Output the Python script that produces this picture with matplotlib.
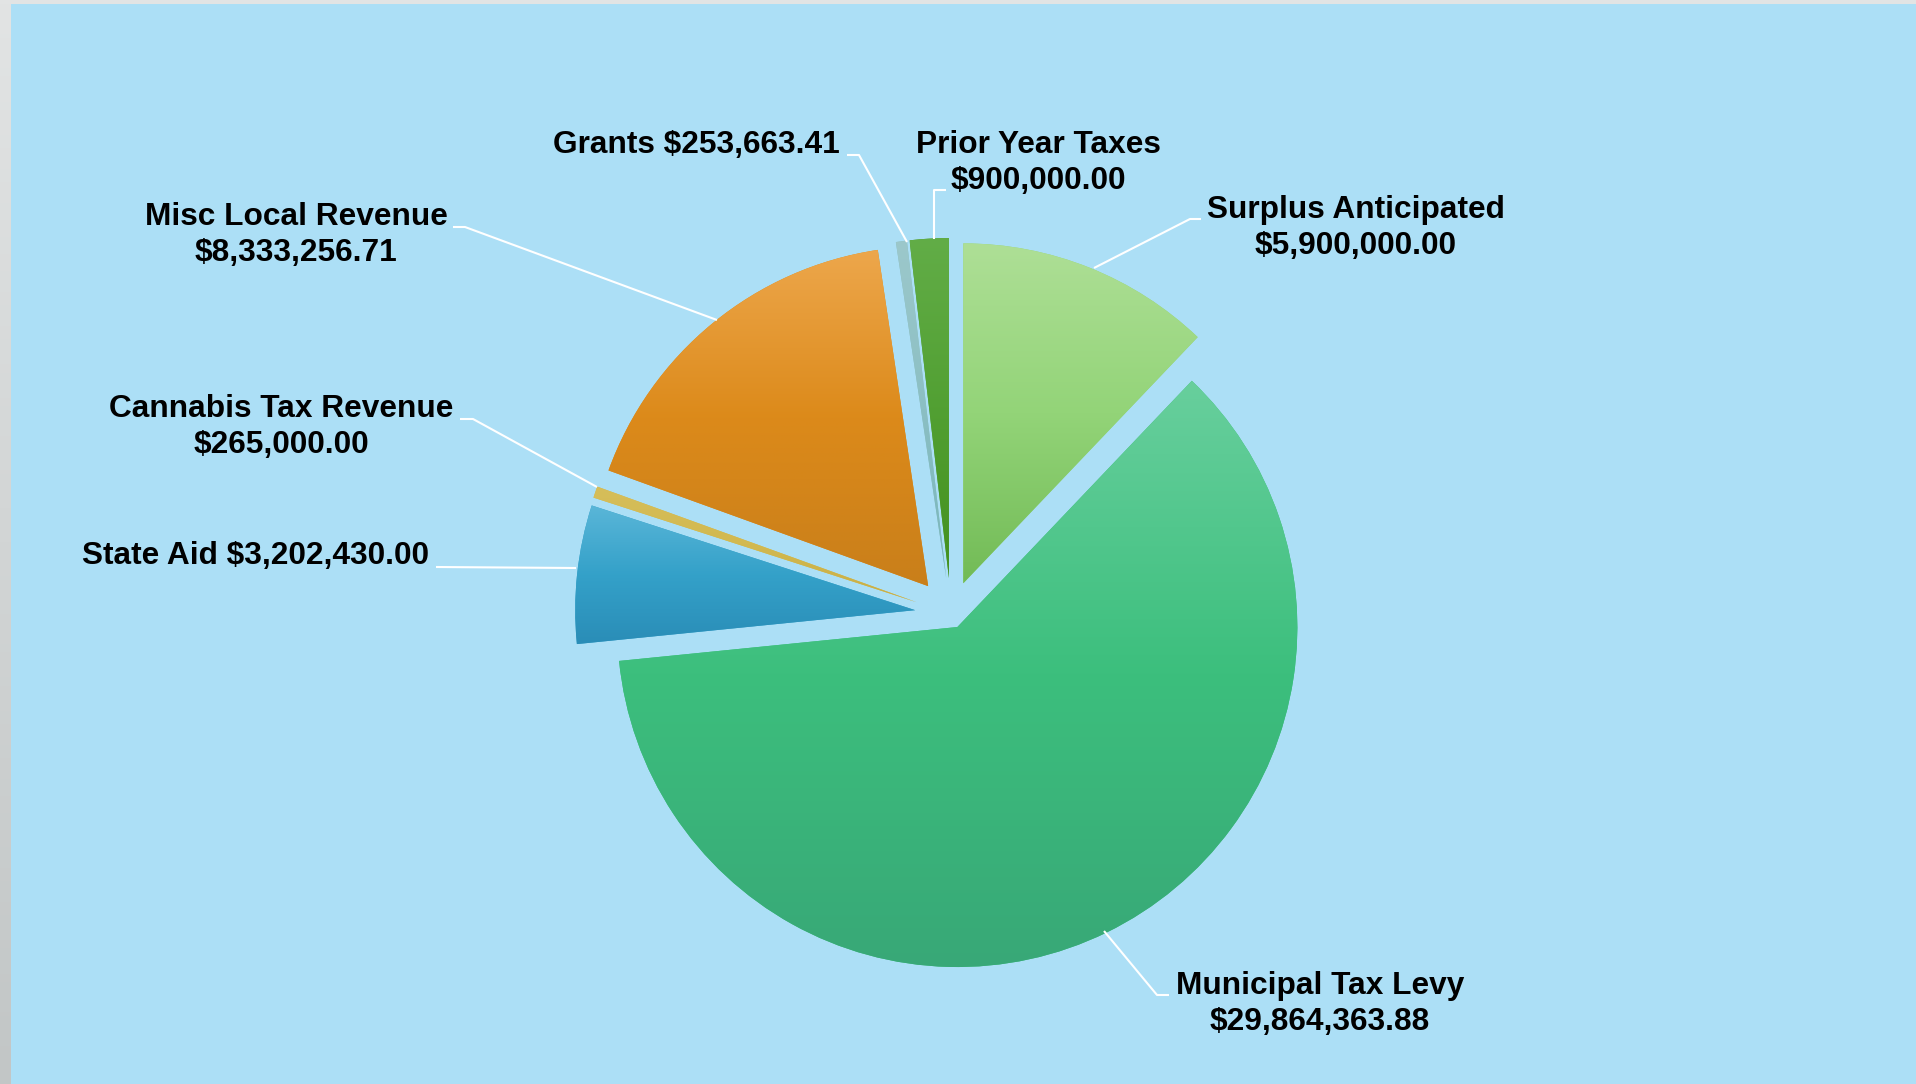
import numpy as np
import matplotlib
matplotlib.use("Agg")
import matplotlib.pyplot as plt
from matplotlib.colors import LinearSegmentedColormap
from matplotlib.patches import Rectangle

# data, clockwise from 12 o'clock
categories = ["Surplus Anticipated", "Municipal Tax Levy", "State Aid",
              "Cannabis Tax Revenue", "Misc Local Revenue", "Grants",
              "Prior Year Taxes"]
amounts = [5900000.00, 29864363.88, 3202430.00, 265000.00,
           8333256.71, 253663.41, 900000.00]

# style / layout (image pixel coords, y down)
W, H = 1916, 1084
explode = [33, 14.5, 36, 36, 36, 36, 36]   # pixels (pie() uses raw units)
gradients = [
    ["#AEDF96", "#93D478", "#72BB56"],
    ["#68CF9D", "#3CBF7D", "#38A877"],
    ["#5AB6D8", "#34A1C9", "#2A8DB7"],
    ["#D6BE5A", "#D2B950", "#C9AE44"],
    ["#EDA74C", "#DC8A1A", "#C97F1A"],
    ["#9CC8CB", "#8BBFC3", "#78B6BA"],
    ["#62AD47", "#52A033", "#43901E"],
]
sep = ["\n", "\n", " ", "\n", "\n", " ", "\n"]
label_xy = [(1356, 228), (1320, 1004), (256, 556), (281, 427),
            (296, 235), (696, 145), (1038, 163)]
leaders = [
    [(1094, 268), (1190, 219), (1201, 219)],
    [(1104, 931), (1157, 995), (1169, 995)],
    [(576, 568), (436, 567)],
    [(597, 487), (473, 419), (460, 419)],
    [(717, 320), (465, 227), (453, 227)],
    [(907, 242), (859, 155), (847, 155)],
    [(934, 239), (934, 190), (946, 190)],
]
pie_center = (951, 614)
pie_radius = 340


def Y(y):
    return H - y


plt.rcParams["font.family"] = ["Liberation Sans", "DejaVu Sans"]

fig = plt.figure(figsize=(W / 100, H / 100), dpi=100, facecolor="#ACDFF6")
ax = fig.add_axes([0, 0, 1, 1])

wedges, _ = ax.pie(amounts, explode=explode, startangle=90, counterclock=False,
                   radius=pie_radius, center=(pie_center[0], Y(pie_center[1])),
                   colors=[g[1] for g in gradients],
                   wedgeprops=dict(linewidth=0))

grad = np.linspace(0, 1, 256).reshape(-1, 1)
for w, stops in zip(wedges, gradients):
    ext = w.get_path().get_extents()
    cmap = LinearSegmentedColormap.from_list("g", stops)
    im = ax.imshow(grad, cmap=cmap, origin="upper", aspect="auto",
                   extent=[ext.x0, ext.x1, ext.y0, ext.y1],
                   interpolation="bilinear", zorder=w.get_zorder() + 0.1)
    im.set_clip_path(w)

for pts in leaders:
    ax.plot([p[0] for p in pts], [Y(p[1]) for p in pts], color="white",
            lw=1.5, solid_capstyle="butt", zorder=3)

for name, val, s, (x, y) in zip(categories, amounts, sep, label_xy):
    ax.text(x, Y(y), f"{name}{s}${val:,.2f}", ha="center", va="center",
            fontsize=22.8, fontweight="bold", color="black",
            linespacing=1.3, zorder=4)

ax.set_xlim(0, W)
ax.set_ylim(0, H)
ax.set_aspect("equal")
ax.axis("off")

# grey frame on the left and top edges
strip = fig.add_axes([0, 0, 11 / W, 1])
strip.imshow(np.linspace(0, 1, 256).reshape(-1, 1), aspect="auto",
             cmap=LinearSegmentedColormap.from_list("s", ["#E2E4E4", "#C2C6C6"]))
strip.axis("off")
fig.add_artist(Rectangle((0, 1 - 4 / H), 1, 4 / H, transform=fig.transFigure,
                         color="#E2E4E4", lw=0))

fig.savefig("out.png", dpi=100, facecolor=fig.get_facecolor())
